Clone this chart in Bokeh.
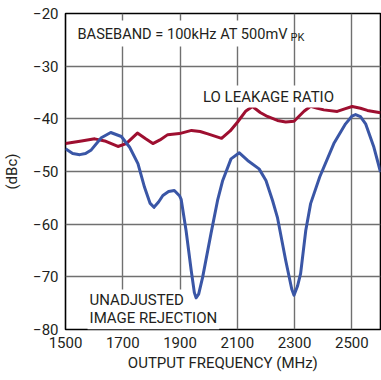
from bokeh.plotting import figure
from bokeh.models import Label, FixedTicker, Range1d
from bokeh.embed import file_html
from bokeh.resources import INLINE

# LO leakage ratio (dark red)
lo_freq = [1500, 1556, 1602, 1637, 1683, 1712, 1751, 1780, 1805, 1830, 1857, 1898,
           1940, 1970, 1997, 2045, 2075, 2101, 2130, 2153, 2180, 2205, 2240, 2269,
           2298, 2333, 2356, 2380, 2402, 2449, 2475, 2501, 2530, 2554, 2600]
lo_dbc = [-44.7, -44.2, -43.8, -44.2, -45.25, -44.7, -42.7, -43.8, -44.7, -44.0, -43.0, -42.8,
          -42.2, -42.4, -42.85, -43.7, -42.3, -40.6, -38.5, -37.65, -38.8, -39.55, -40.3, -40.6,
          -40.45, -38.55, -37.6, -38.0, -38.3, -38.6, -38.1, -37.65, -38.0, -38.4, -38.85]

# Unadjusted image rejection (blue)
ir_freq = [1500, 1525, 1550, 1570, 1590, 1625, 1658, 1695, 1724, 1753, 1776, 1795,
           1809, 1825, 1840, 1860, 1880, 1898, 1904, 1921, 1939, 1950, 1956, 1965,
           1979, 2008, 2031, 2049, 2078, 2107, 2136, 2176, 2200, 2223, 2240, 2269,
           2290, 2298, 2310, 2321, 2339, 2356, 2388, 2437, 2478, 2500, 2513, 2530,
           2548, 2577, 2600]
ir_dbc = [-45.7, -46.6, -46.8, -46.6, -45.9, -43.6, -42.6, -43.35, -45.4, -48.5, -53.0, -56.0,
          -56.8, -55.8, -54.55, -53.8, -53.6, -54.6, -55.3, -61.2, -68.8, -73.0, -74.0, -73.3,
          -70.06, -61.8, -55.5, -51.7, -47.6, -46.45, -47.9, -49.5, -51.7, -55.5, -58.7, -66.9,
          -72.3, -73.5, -71.8, -69.4, -61.2, -56.1, -51.0, -44.7, -40.95, -39.5, -39.2, -39.6,
          -40.95, -45.4, -50.1]

x_ticks = [1500, 1700, 1900, 2100, 2300, 2500]
y_ticks = [-80, -70, -60, -50, -40, -30, -20]
y_tick_labels = {t: "\u2212" + str(abs(t)) for t in y_ticks}

FONT = "Roboto"
RED = "#9E0F30"
BLUE = "#3A56A6"
TXT = "#231F20"

p = figure(width=381, height=380, output_backend="svg", toolbar_location=None,
           x_range=Range1d(1500, 2600), y_range=Range1d(-80, -20),
           min_border_left=64, min_border_right=1, min_border_top=13, min_border_bottom=51)

p.outline_line_color = "black"
p.outline_line_width = 1.6
p.background_fill_color = "white"
p.border_fill_color = "white"

for ax in (p.xaxis[0], p.yaxis[0]):
    ax.axis_line_color = None
    ax.major_tick_out = 0
    ax.major_tick_in = 0
    ax.minor_tick_out = 0
    ax.minor_tick_in = 0
    ax.major_label_text_font = FONT
    ax.major_label_text_font_size = "15px"
    ax.major_label_text_color = TXT
    ax.axis_label_text_font = FONT
    ax.axis_label_text_font_size = "15px"
    ax.axis_label_text_font_style = "normal"
    ax.axis_label_text_color = TXT

p.xaxis.ticker = FixedTicker(ticks=x_ticks)
p.yaxis.ticker = FixedTicker(ticks=y_ticks)
p.yaxis.major_label_overrides = y_tick_labels
p.xaxis.major_label_standoff = 7
p.yaxis.major_label_standoff = 7
p.xaxis.axis_label = "OUTPUT FREQUENCY (MHz)"
p.yaxis.axis_label = "(dBc)"
p.xaxis.axis_label_standoff = 3
p.yaxis.axis_label_standoff = 9

p.xgrid.grid_line_color = "#707070"
p.ygrid.grid_line_color = "#707070"
p.xgrid.grid_line_width = 1.4
p.ygrid.grid_line_width = 1.4

p.line(lo_freq, lo_dbc, line_color=RED, line_width=3, line_join="round")
p.line(ir_freq, ir_dbc, line_color=BLUE, line_width=3, line_join="round")

lab_kw = dict(text_font=FONT, text_font_size="15px", text_color=TXT,
              background_fill_color="white", text_baseline="alphabetic")

p.add_layout(Label(x=1528, y=-23.8, text="BASEBAND = 100kHz AT 500mV", padding=4,
                   text_font=FONT, text_font_size="14.6px", text_color=TXT,
                   background_fill_color="white", text_baseline="alphabetic"))
p.add_layout(Label(x=2286, y=-24.56, text="PK", text_font=FONT, text_font_size="11px",
                   text_color=TXT, text_baseline="alphabetic"))
p.add_layout(Label(x=1973, y=-35.76, text="LO LEAKAGE RATIO", padding=2, **lab_kw))
p.add_layout(Label(x=1577, y=-74.49, text="UNADJUSTED", padding=2, **lab_kw))
p.add_layout(Label(x=1577, y=-77.91, text="IMAGE REJECTION", padding=2, **lab_kw))

open("out.html", "w").write(file_html(p, INLINE))
